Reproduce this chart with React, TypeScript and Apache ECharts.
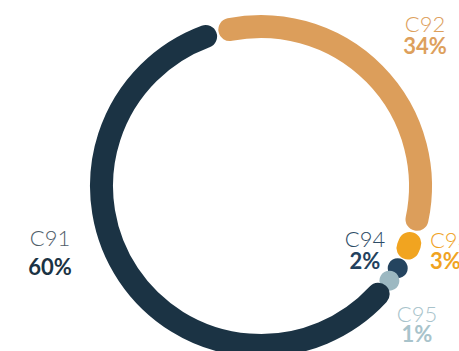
import React, { useEffect, useRef } from "react";
import * as echarts from "echarts";

// ---- data (clockwise from the top gap) ----
const categories = ["C92", "C93", "C94", "C95", "C91"];
const values = [34, 3, 2, 1, 60];
const percentLabels = ["34%", "3%", "2%", "1%", "60%"];

// ---- styles ----
const ringColors = ["#DC9E5B", "#F1A420", "#24445F", "#9CB8C1", "#1B3344"];
const nameColors = ["#DDA05C", "#F0A31F", "#2D4B66", "#A8C3CB", "#4F5D6A"];
const pctColors = ["#DDA05C", "#F0A31F", "#23415D", "#A8C3CB", "#1B3344"];

// ---- layout ----
const CX = 261;
const CY = 186;
const R = 159.5;
const LINE_W = 23;
const DOT_R = 10;
const START_DEG = -15.8; // clockwise from 12 o'clock
const GAP_DEG = 0.8;
// label centres: [x, nameY, pctY, align]
const labelLayout: [number, number, number, string][] = [
  [425, 23.5, 45.5, "center"],
  [430, 239, 260, "left"],
  [365, 238.5, 260, "center"],
  [417, 313.5, 333, "center"],
  [50, 237, 266, "center"],
];

const FONT = "Lato, 'Open Sans', sans-serif";

export default function App() {
  const ref = useRef<HTMLDivElement>(null);
  useEffect(() => {
    document.body.style.margin = "0";
    if (!ref.current) return;
    const chart = echarts.init(ref.current, undefined, { renderer: "svg" });
    const total = values.reduce((a, b) => a + b, 0);

    const renderItem = (params: any, api: any) => {
      const i = params.dataIndex;
      const v = api.value(0);
      let cum = 0;
      for (let k = 0; k < i; k++) cum += values[k];
      const s = START_DEG + (cum / total) * 360 + GAP_DEG / 2;
      const e = START_DEG + ((cum + v) / total) * 360 - GAP_DEG / 2;
      const capDeg = ((LINE_W / 2) / R) * (180 / Math.PI);
      const a0 = s + capDeg;
      const a1 = e - capDeg;
      const color = ringColors[i];
      if (a1 <= a0) {
        const mid = ((s + e) / 2 - 90) * (Math.PI / 180);
        return {
          type: "circle",
          shape: { cx: CX + R * Math.cos(mid), cy: CY + R * Math.sin(mid), r: DOT_R },
          style: { fill: color },
        };
      }
      const toRad = (d: number) => (d - 90) * (Math.PI / 180);
      return {
        type: "arc",
        shape: { cx: CX, cy: CY, r: R, startAngle: toRad(a0), endAngle: toRad(a1), clockwise: true },
        style: { stroke: color, lineWidth: LINE_W, lineCap: "round", fill: null },
      };
    };

    const graphics: any[] = [];
    categories.forEach((c, i) => {
      const [x, ny, py, align] = labelLayout[i];
      graphics.push({
        type: "text",
        x,
        y: ny,
        style: {
          text: c,
          fill: nameColors[i],
          font: `300 22px ${FONT}`,
          lineHeight: 18,
          align,
          verticalAlign: "middle",
        },
      });
      graphics.push({
        type: "text",
        x,
        y: py,
        style: {
          text: percentLabels[i],
          fill: pctColors[i],
          font: `bold 22px ${FONT}`,
          lineHeight: 18,
          align,
          verticalAlign: "middle",
        },
      });
    });

    chart.setOption({
      animation: false,
      backgroundColor: "#ffffff",
      series: [
        {
          type: "custom",
          coordinateSystem: "none",
          renderItem,
          data: values.map((v, i) => ({ name: categories[i], value: [v] })),
        },
      ],
      graphic: graphics,
    });
    return () => chart.dispose();
  }, []);
  return <div ref={ref} style={{ width: 459, height: 351 }} />;
}
